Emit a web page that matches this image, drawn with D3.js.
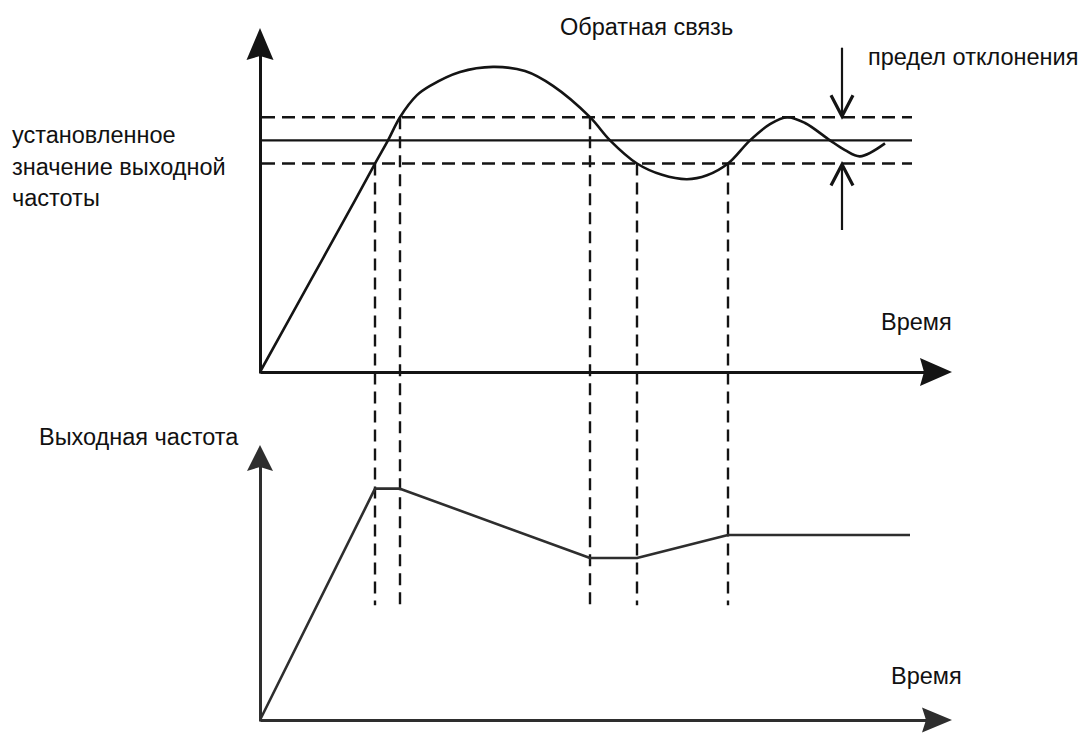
<!DOCTYPE html>
<html>
<head>
<meta charset="utf-8">
<script src="https://cdn.jsdelivr.net/npm/d3@7"></script>
<style>
  html, body { margin: 0; padding: 0; background: #fff; }
  svg { display: block; }
  text { font-family: "Liberation Sans", Arial, sans-serif; font-size: 23.5px; fill: #111; }
</style>
</head>
<body>
<svg id="chart" width="1080" height="733"></svg>
<script>
// Feedback signal (upper plot): time vs. feedback relative to the set value
const feedbackTime  = [0, 5, 9.5, 11.5, 12.8, 14, 15.7, 17, 20, 23.3, 26.5, 29.3, 33, 35, 37.7, 40.2, 42.7, 44.7, 46.8, 49, 51, 52.7, 54.5, 57, 58.5, 60, 62.5];
const feedbackValue = [0, 0.39, 0.741, 0.9, 1.0, 1.1, 1.195, 1.235, 1.295, 1.317, 1.299, 1.235, 1.1, 1.0, 0.9, 0.851, 0.832, 0.849, 0.9, 1.0, 1.07, 1.1, 1.075, 1.0, 0.958, 0.931, 0.987];

// Set value and the allowed deviation band around it
const setValue = 1.0;
const bandLow = 0.9;
const bandHigh = 1.1;
const lineEnd = 65.2;

// Output frequency (lower plot)
const outputTime  = [0, 11.5, 14, 33, 37.7, 46.8, 65];
const outputValue = [0, 1.25, 1.25, 0.875, 0.875, 1.0, 1.0];

// Moments where the feedback leaves / enters the band
const eventTime  = [11.5, 14, 33, 37.7, 46.8];
const eventLevel = [0.9, 1.1, 1.1, 0.9, 0.9];
const eventDropTo = 0.62;

// Deviation-limit markers
const limitTime = 58.2;
const limitTop = 1.4;
const limitBottom = 0.613;

// Labels
const titleText = "Обратная связь";
const limitText = "предел отклонения";
const setLabelLines = ["установленное", "значение выходной", "частоты"];
const timeLabel = "Время";
const outputLabel = "Выходная частота";

const svg = d3.select("#chart");
const ink = "#141414";
const inkSoft = "#2e2e2e";

const x = d3.scaleLinear().domain([0, 69.2]).range([260, 952]);
const yTop = d3.scaleLinear().domain([0, 1.485]).range([372, 28]);
const yBot = d3.scaleLinear().domain([0, 1.486]).range([720, 445]);

// ---- axes (no ticks, arrowheads at the ends)
function arrowUp(g, cx, tipY, len, half, color) {
  g.append("path")
    .attr("d", `M${cx},${tipY} L${cx + half},${tipY + len} L${cx},${tipY + len - 4} L${cx - half},${tipY + len} Z`)
    .attr("fill", color);
}
function arrowRight(g, tipX, cy, len, half, color) {
  g.append("path")
    .attr("d", `M${tipX},${cy} L${tipX - len},${cy - half} L${tipX - len + 4},${cy} L${tipX - len},${cy + half} Z`)
    .attr("fill", color);
}
function styleAxis(sel, color) {
  sel.select(".domain").attr("stroke", color).attr("stroke-width", 3);
}

const topX = svg.append("g").attr("transform", `translate(0,${yTop(0)})`)
  .call(d3.axisBottom(x.copy().range([260, 930])).tickValues([]).tickSizeOuter(0));
styleAxis(topX, ink);
const topY = svg.append("g").attr("transform", `translate(${x(0)},0)`)
  .call(d3.axisLeft(yTop.copy().range([373, 50])).tickValues([]).tickSizeOuter(0));
styleAxis(topY, ink);
arrowRight(svg, x.range()[1], yTop(0), 32, 14, ink);
arrowUp(svg, x(0), yTop.range()[1], 32, 13.5, ink);

const botX = svg.append("g").attr("transform", `translate(0,${yBot(0)})`)
  .call(d3.axisBottom(x.copy().range([260, 930])).tickValues([]).tickSizeOuter(0));
styleAxis(botX, inkSoft);
const botY = svg.append("g").attr("transform", `translate(${x(0)},0)`)
  .call(d3.axisLeft(yBot.copy().range([721, 460])).tickValues([]).tickSizeOuter(0));
styleAxis(botY, inkSoft);
arrowRight(svg, x.range()[1], yBot(0), 30, 12.5, inkSoft);
arrowUp(svg, x(0), yBot.range()[1], 26, 13, inkSoft);

// ---- set value and deviation band
svg.append("line")
  .attr("x1", x(0)).attr("x2", x(lineEnd))
  .attr("y1", yTop(setValue)).attr("y2", yTop(setValue))
  .attr("stroke", ink).attr("stroke-width", 2.2);
[bandHigh, bandLow].forEach(v => {
  svg.append("line")
    .attr("x1", x(0) + 2).attr("x2", x(lineEnd))
    .attr("y1", yTop(v)).attr("y2", yTop(v))
    .attr("stroke", ink).attr("stroke-width", 2.6)
    .attr("stroke-dasharray", "13,7");
});

// ---- vertical event lines linking both plots
eventTime.forEach((t, i) => {
  svg.append("line")
    .attr("x1", x(t)).attr("x2", x(t))
    .attr("y1", yTop(eventLevel[i])).attr("y2", yBot(eventDropTo))
    .attr("stroke", ink).attr("stroke-width", 2.4)
    .attr("stroke-dasharray", "12,7");
});

// ---- feedback curve
const fbData = feedbackTime.map((t, i) => [t, feedbackValue[i]]);
svg.append("path")
  .datum(fbData)
  .attr("d", d3.line().x(d => x(d[0])).y(d => yTop(d[1])).curve(d3.curveCatmullRom.alpha(0.5)))
  .attr("fill", "none").attr("stroke", ink).attr("stroke-width", 2.6);

// ---- output frequency
const outData = outputTime.map((t, i) => [t, outputValue[i]]);
svg.append("path")
  .datum(outData)
  .attr("d", d3.line().x(d => x(d[0])).y(d => yBot(d[1])))
  .attr("fill", "none").attr("stroke", inkSoft).attr("stroke-width", 2.6)
  .attr("stroke-linejoin", "round");

// ---- deviation-limit arrows
const lx = x(limitTime);
svg.append("line").attr("x1", lx).attr("x2", lx)
  .attr("y1", yTop(limitTop)).attr("y2", yTop(bandHigh) - 2)
  .attr("stroke", ink).attr("stroke-width", 2.2);
svg.append("path")
  .attr("d", `M${lx - 11},${yTop(bandHigh) - 22} L${lx},${yTop(bandHigh) - 1} L${lx + 11},${yTop(bandHigh) - 22}`)
  .attr("fill", "none").attr("stroke", ink).attr("stroke-width", 3.2);
svg.append("line").attr("x1", lx).attr("x2", lx)
  .attr("y1", yTop(bandLow) + 2).attr("y2", yTop(limitBottom))
  .attr("stroke", ink).attr("stroke-width", 2.2);
svg.append("path")
  .attr("d", `M${lx - 11},${yTop(bandLow) + 22} L${lx},${yTop(bandLow) + 1} L${lx + 11},${yTop(bandLow) + 22}`)
  .attr("fill", "none").attr("stroke", ink).attr("stroke-width", 3.2);

// ---- labels
svg.append("text").attr("x", 560).attr("y", 35).text(titleText);
svg.append("text").attr("x", 868).attr("y", 65).text(limitText);
svg.append("text").selectAll("tspan").data(setLabelLines).join("tspan")
  .attr("x", 12).attr("y", (d, i) => 143 + i * 31.5).text(d => d);
svg.append("text").attr("x", 881).attr("y", 330).text(timeLabel);
svg.append("text").attr("x", 891).attr("y", 684).text(timeLabel);
svg.append("text").attr("x", 39).attr("y", 445).text(outputLabel);
</script>
</body>
</html>
